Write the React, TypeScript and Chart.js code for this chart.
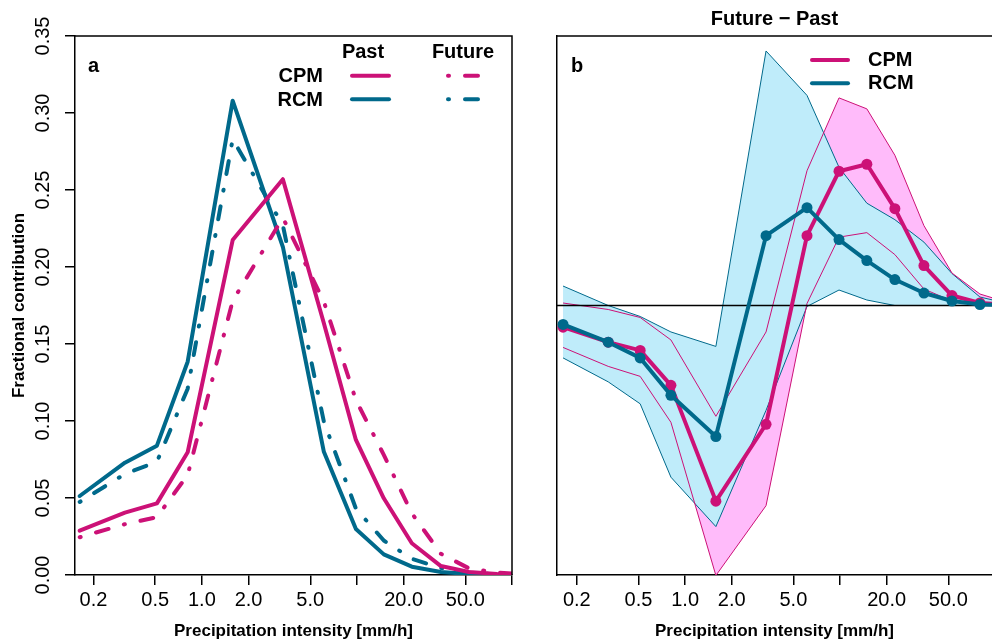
import React, { useEffect, useRef } from 'react';
import { Chart, registerables } from 'chart.js';

Chart.register(...registerables);

// ---------- data ----------
const X_BINS = [0.163, 0.319, 0.513, 0.81, 1.58, 3.33, 6.12, 9.85, 14.9, 22.6, 34.8, 52.8, 80, 121];
const SERIES = ['CPM', 'RCM'];

// panel a: fractional contribution
const CPM_PAST = [0.0288, 0.0405, 0.0465, 0.0797, 0.2175, 0.257, 0.1635, 0.0877, 0.0498, 0.0206, 0.0058, 0.002, 0.0007, 0.0002];
const CPM_FUTURE = [0.0245, 0.033, 0.0376, 0.065, 0.178, 0.232, 0.1775, 0.1136, 0.078, 0.040, 0.0138, 0.0043, 0.0015, 0.0005];
const RCM_PAST = [0.0513, 0.0729, 0.084, 0.1385, 0.308, 0.213, 0.080, 0.0299, 0.0134, 0.0054, 0.002, 0.0006, 0.0002, 0.0001];
const RCM_FUTURE = [0.0474, 0.0656, 0.0735, 0.121, 0.283, 0.227, 0.0996, 0.0431, 0.0224, 0.0105, 0.0045, 0.0015, 0.0004, 0.0001];

// panel b: future - past (mean and spread)
const CPM_DIFF = [-0.00435, -0.00735, -0.009, -0.016, -0.0392, -0.0238, 0.014, 0.0269, 0.0283, 0.0194, 0.008, 0.002, 0.0005, 0.0001];
const CPM_UPPER = [0.0005, -0.0008, -0.0024, -0.0069, -0.0222, -0.0053, 0.027, 0.0416, 0.0394, 0.0301, 0.016, 0.0065, 0.0023, 0.0006];
const CPM_LOWER = [-0.0084, -0.0122, -0.0142, -0.0234, -0.0541, -0.0401, 0.0004, 0.0137, 0.0146, 0.0102, 0.0033, 0.0009, 0.0002, 0.0];
const RCM_DIFF = [-0.0038, -0.00735, -0.0105, -0.018, -0.02625, 0.014, 0.0196, 0.0132, 0.009, 0.0052, 0.0025, 0.0009, 0.0002, 0.0001];
const RCM_UPPER = [0.0039, 0.0, -0.0022, -0.0053, -0.0082, 0.051, 0.0421, 0.0277, 0.0205, 0.0172, 0.0127, 0.0064, 0.0017, 0.0004];
const RCM_LOWER = [-0.0105, -0.0153, -0.0197, -0.0344, -0.0443, -0.021, -0.0002, 0.0031, 0.0011, 0.0, 0.0, 0.0, 0.0, 0.0];

// axes
const X_TICKS = [0.2, 0.5, 1, 2, 5, 10, 20, 50, 100];
const X_TICK_LABELS = ['0.2', '0.5', '1.0', '2.0', '5.0', '', '20.0', '50.0', ''];
const Y_TICKS_A = [0, 0.05, 0.1, 0.15, 0.2, 0.25, 0.3, 0.35];
const X_MIN_A = 0.152;
const X_MAX_A = 100;
const X_MIN_B = 0.149;
const X_MAX_B = 95.7;
const Y_MIN_B = -0.054;
const Y_MAX_B = 0.054;
const ZERO_LINE = [0, 0];

// ---------- style ----------
const FONT = '"Liberation Sans", Arial, Helvetica, sans-serif';
const PINK = '#CC1177';
const TEAL = '#00698B';
const PINK_FILL = '#FFBBFA';
const BLUE_FILL = '#BFECFA';
const DASHDOT = [1, 16, 13, 16];

const pts = (ys: number[]) => X_BINS.map((x, i) => ({ x, y: ys[i] }));

function lineDs(label: string, ys: number[], color: string, dash: number[], order: number) {
  return {
    label,
    data: pts(ys),
    borderColor: color,
    backgroundColor: color,
    borderWidth: 4,
    borderDash: dash,
    borderCapStyle: 'round',
    borderJoinStyle: 'round',
    pointRadius: 0,
    tension: 0,
    fill: false,
    order,
  };
}

function xAxis(min: number, max: number) {
  return {
    type: 'logarithmic',
    min,
    max,
    afterBuildTicks: (s: any) => {
      s.ticks = X_TICKS.filter((v) => v >= s.min && v <= s.max).map((v) => ({ value: v }));
    },
    afterFit: (s: any) => {
      s.height = 69;
    },
    ticks: {
      autoSkip: false,
      maxRotation: 0,
      minRotation: 0,
      color: '#000',
      padding: 3,
      font: { family: FONT, size: 20 },
      callback: (v: any) => {
        const i = X_TICKS.indexOf(Number(v));
        return i >= 0 ? X_TICK_LABELS[i] : '';
      },
    },
    grid: { display: true, drawOnChartArea: false, drawTicks: true, tickLength: 10, color: '#000', lineWidth: 1.5 },
    border: { display: true, color: '#000', width: 1.5 },
    title: {
      display: true,
      text: 'Precipitation intensity [mm/h]',
      color: '#000',
      font: { family: FONT, size: 17, weight: 'bold' },
      padding: { top: 0, bottom: 2 },
    },
  };
}

function framePlugin(withRight: boolean) {
  return {
    id: 'frame' + (withRight ? 'R' : ''),
    afterDraw(chart: any) {
      const { ctx, chartArea: a } = chart;
      ctx.save();
      ctx.strokeStyle = '#000';
      ctx.lineWidth = 1.5;
      ctx.beginPath();
      ctx.moveTo(a.left, a.top);
      ctx.lineTo(a.right, a.top);
      if (withRight) ctx.lineTo(a.right, a.bottom);
      ctx.stroke();
      ctx.restore();
    },
  };
}

function seg(ctx: any, x0: number, x1: number, y: number, color: string, dash: number[]) {
  ctx.save();
  ctx.strokeStyle = color;
  ctx.lineWidth = 4;
  ctx.lineCap = 'round';
  ctx.setLineDash(dash);
  ctx.beginPath();
  ctx.moveTo(x0, y);
  ctx.lineTo(x1, y);
  ctx.stroke();
  ctx.restore();
}

const legendA = {
  id: 'legendA',
  afterDraw(chart: any) {
    const ctx = chart.ctx;
    const L = chart.chartArea.left;
    const T = chart.chartArea.top;
    ctx.save();
    ctx.fillStyle = '#000';
    ctx.font = `bold 20px ${FONT}`;
    ctx.textBaseline = 'alphabetic';
    ctx.textAlign = 'left';
    ctx.fillText('a', L + 13, T + 36);
    ctx.textBaseline = 'middle';
    ctx.textAlign = 'center';
    ctx.fillText('Past', L + 288, T + 16);
    ctx.fillText('Future', L + 388, T + 16);
    ctx.textAlign = 'right';
    ctx.fillText(SERIES[0], L + 248, T + 40);
    ctx.fillText(SERIES[1], L + 248, T + 64);
    ctx.restore();
    seg(ctx, L + 277, L + 314, T + 39.7, PINK, []);
    seg(ctx, L + 277, L + 314, T + 63.3, TEAL, []);
    seg(ctx, L + 373, L + 407, T + 39.7, PINK, DASHDOT);
    seg(ctx, L + 373, L + 407, T + 63.3, TEAL, DASHDOT);
  },
};

const legendB = {
  id: 'legendB',
  afterDraw(chart: any) {
    const ctx = chart.ctx;
    const L = chart.chartArea.left;
    const T = chart.chartArea.top;
    ctx.save();
    ctx.fillStyle = '#000';
    ctx.font = `bold 20px ${FONT}`;
    ctx.textBaseline = 'alphabetic';
    ctx.textAlign = 'left';
    ctx.fillText('b', L + 14, T + 36);
    ctx.textBaseline = 'middle';
    ctx.fillText(SERIES[0], L + 311, T + 24.5);
    ctx.fillText(SERIES[1], L + 311, T + 47);
    ctx.restore();
    seg(ctx, L + 255, L + 291, T + 24, PINK, []);
    seg(ctx, L + 255, L + 291, T + 47.3, TEAL, []);
  },
};

function PanelA() {
  const ref = useRef<HTMLCanvasElement | null>(null);
  useEffect(() => {
    if (!ref.current) return;
    const chart = new Chart(ref.current, {
      type: 'line',
      data: {
        datasets: [
          lineDs('RCM past', RCM_PAST, TEAL, [], 4),
          lineDs('RCM future', RCM_FUTURE, TEAL, DASHDOT, 3),
          lineDs('CPM past', CPM_PAST, PINK, [], 2),
          lineDs('CPM future', CPM_FUTURE, PINK, DASHDOT, 1),
        ] as any,
      },
      options: {
        animation: false,
        responsive: false,
        layout: { padding: { top: 36, right: 28, left: 0, bottom: 0 } },
        plugins: { legend: { display: false }, tooltip: { enabled: false }, title: { display: false } },
        scales: {
          x: xAxis(X_MIN_A, X_MAX_A) as any,
          y: {
            type: 'linear',
            min: 0,
            max: 0.35,
            afterBuildTicks: (s: any) => {
              s.ticks = Y_TICKS_A.map((v) => ({ value: v }));
            },
            afterFit: (s: any) => {
              s.width = 75;
            },
            ticks: {
              minRotation: 90,
              maxRotation: 90,
              crossAlign: 'center',
              padding: 2,
              color: '#000',
              font: { family: FONT, size: 20 },
              callback: (v: any) => Number(v).toFixed(2),
            },
            grid: { display: true, drawOnChartArea: false, drawTicks: true, tickLength: 10, color: '#000', lineWidth: 1.5 },
            border: { display: true, color: '#000', width: 1.5 },
            title: {
              display: true,
              text: 'Fractional contribution',
              color: '#000',
              font: { family: FONT, size: 17, weight: 'bold' },
              padding: { top: 9, bottom: 0 },
            },
          } as any,
        },
      },
      plugins: [framePlugin(true), legendA],
    });
    return () => chart.destroy();
  }, []);
  return <canvas ref={ref} width={540} height={644} />;
}

function PanelB() {
  const ref = useRef<HTMLCanvasElement | null>(null);
  useEffect(() => {
    if (!ref.current) return;
    const thin = (label: string, ys: number[], color: string, order: number, extra: any = {}) => ({
      label,
      data: pts(ys),
      borderColor: color,
      borderWidth: 1,
      pointRadius: 0,
      tension: 0,
      fill: false,
      order,
      ...extra,
    });
    const mean = (label: string, ys: number[], color: string, order: number) => ({
      label,
      data: pts(ys),
      borderColor: color,
      backgroundColor: color,
      borderWidth: 4,
      borderCapStyle: 'round',
      borderJoinStyle: 'round',
      pointRadius: 5.5,
      pointBackgroundColor: color,
      pointBorderWidth: 0,
      tension: 0,
      fill: false,
      order,
    });
    const chart = new Chart(ref.current, {
      type: 'line',
      data: {
        datasets: [
          thin('CPM upper fill', CPM_UPPER, 'rgba(0,0,0,0)', 10, { borderWidth: 0, fill: { target: 1 }, backgroundColor: PINK_FILL }),
          thin('CPM lower fill', CPM_LOWER, 'rgba(0,0,0,0)', 9, { borderWidth: 0 }),
          thin('RCM upper', RCM_UPPER, TEAL, 8, { fill: { target: 3 }, backgroundColor: BLUE_FILL }),
          thin('RCM lower', RCM_LOWER, TEAL, 7),
          thin('CPM upper', CPM_UPPER, PINK, 6),
          thin('CPM lower', CPM_LOWER, PINK, 5),
          {
            label: 'zero',
            data: [
              { x: X_MIN_B, y: ZERO_LINE[0] },
              { x: X_MAX_B, y: ZERO_LINE[1] },
            ],
            borderColor: '#000',
            borderWidth: 1.5,
            pointRadius: 0,
            fill: false,
            order: 4,
          },
          mean('CPM', CPM_DIFF, PINK, 3),
          mean('RCM', RCM_DIFF, TEAL, 2),
        ] as any,
      },
      options: {
        animation: false,
        responsive: false,
        layout: { padding: { top: 0, left: 0, bottom: 0, right: 18 } },
        plugins: {
          legend: { display: false },
          tooltip: { enabled: false },
          title: {
            display: true,
            text: 'Future − Past',
            fullSize: false,
            color: '#000',
            font: { family: FONT, size: 20, weight: 'bold' },
            padding: { top: 7, bottom: 5 },
          },
        },
        scales: {
          x: xAxis(X_MIN_B, X_MAX_B) as any,
          y: {
            type: 'linear',
            min: Y_MIN_B,
            max: Y_MAX_B,
            afterFit: (s: any) => {
              s.width = 17;
            },
            ticks: { display: false },
            grid: { display: false },
            border: { display: true, color: '#000', width: 1.5 },
          } as any,
        },
      },
      plugins: [framePlugin(false), legendB],
    });
    return () => chart.destroy();
  }, []);
  return <canvas ref={ref} width={470} height={644} />;
}

export default function App() {
  return (
    <div style={{ position: 'fixed', left: 0, top: 0, width: 992, height: 644, background: '#fff', overflow: 'hidden' }}>
      <div style={{ position: 'absolute', left: 0, top: 0 }}>
        <PanelA />
      </div>
      <div style={{ position: 'absolute', left: 540, top: 0 }}>
        <PanelB />
      </div>
    </div>
  );
}
